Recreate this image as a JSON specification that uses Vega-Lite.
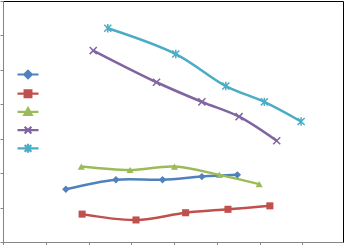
{
  "$schema": "https://vega.github.io/schema/vega-lite/v6.json",
  "autosize": "none",
  "width": 340,
  "height": 241,
  "padding": {"left": 3, "top": 1, "right": 2, "bottom": 3},
  "background": "white",
  "config": {
    "view": {"stroke": "black", "strokeWidth": 1},
    "axis": {
      "domainColor": "#868686",
      "tickColor": "#868686",
      "labels": false,
      "grid": false,
      "title": null,
      "tickSize": 3,
      "domainWidth": 1,
      "tickWidth": 1
    },
    "legend": {
      "orient": "none",
      "legendX": 16,
      "legendY": 64.5,
      "title": null,
      "padding": 0,
      "rowPadding": 1.2,
      "labelExpr": "''",
      "labelLimit": 1,
      "labelFontSize": 1,
      "symbolSize": 225,
      "symbolStrokeWidth": 2.2,
      "symbolOpacity": 1
    }
  },
  "data": {
    "values": [
      {"s": "Series1", "x": 1.47, "y": 1.53},
      {"s": "Series1", "x": 2.64, "y": 1.81},
      {"s": "Series1", "x": 3.73, "y": 1.81},
      {"s": "Series1", "x": 4.65, "y": 1.90},
      {"s": "Series1", "x": 5.48, "y": 1.95},
      {"s": "Series2", "x": 1.85, "y": 0.81},
      {"s": "Series2", "x": 3.11, "y": 0.64},
      {"s": "Series2", "x": 4.27, "y": 0.85},
      {"s": "Series2", "x": 5.26, "y": 0.95},
      {"s": "Series2", "x": 6.24, "y": 1.05},
      {"s": "Series3", "x": 1.83, "y": 2.19},
      {"s": "Series3", "x": 2.97, "y": 2.09},
      {"s": "Series3", "x": 4.01, "y": 2.19},
      {"s": "Series3", "x": 5.06, "y": 1.95},
      {"s": "Series3", "x": 5.99, "y": 1.68},
      {"s": "Series4", "x": 2.11, "y": 5.56},
      {"s": "Series4", "x": 3.59, "y": 4.64},
      {"s": "Series4", "x": 4.65, "y": 4.07},
      {"s": "Series4", "x": 5.52, "y": 3.64},
      {"s": "Series4", "x": 6.40, "y": 2.94},
      {"s": "Series5", "x": 2.45, "y": 6.21},
      {"s": "Series5", "x": 4.04, "y": 5.46},
      {"s": "Series5", "x": 5.21, "y": 4.53},
      {"s": "Series5", "x": 6.11, "y": 4.07},
      {"s": "Series5", "x": 6.97, "y": 3.50}
    ]
  },
  "encoding": {
    "x": {"field": "x", "type": "quantitative", "scale": {"domain": [0, 7.95], "nice": false, "zero": false}, "axis": {"values": [0, 1, 2, 3, 4, 5, 6, 7]}},
    "y": {"field": "y", "type": "quantitative", "scale": {"domain": [0, 7], "nice": false}, "axis": {"values": [0, 1, 2, 3, 4, 5, 6, 7]}},
    "color": {
      "field": "s",
      "type": "nominal",
      "scale": {"domain": ["Series1", "Series2", "Series3", "Series4", "Series5"], "range": ["#4F81BD", "#C0504D", "#9BBB59", "#8064A2", "#4BACC6"]}
    }
  },
  "layer": [
    {
      "mark": {"type": "line", "interpolate": "catmull-rom", "strokeWidth": 2.5}
    },
    {
      "transform": [{"filter": "datum.s == 'Series1'"}],
      "mark": {"type": "point", "shape": "diamond", "filled": true, "opacity": 1, "size": 55}
    },
    {
      "transform": [{"filter": "datum.s == 'Series2'"}],
      "mark": {"type": "point", "shape": "square", "filled": true, "opacity": 1, "size": 50}
    },
    {
      "transform": [{"filter": "datum.s == 'Series3'"}],
      "mark": {"type": "point", "shape": "triangle-up", "filled": true, "opacity": 1, "size": 50}
    },
    {
      "transform": [{"filter": "datum.s == 'Series4'"}],
      "mark": {"type": "point", "shape": "M-1,-1L1,1M-1,1L1,-1", "filled": false, "opacity": 1, "size": 50, "strokeWidth": 1.5}
    },
    {
      "transform": [{"filter": "datum.s == 'Series5'"}],
      "mark": {"type": "point", "shape": "M-1,-1L1,1M-1,1L1,-1M0,-1.2V1.2", "filled": false, "opacity": 1, "size": 50, "strokeWidth": 1.5}
    },
    {
      "mark": {"type": "point", "filled": true, "opacity": 0, "size": 10},
      "encoding": {
        "shape": {
          "field": "s",
          "type": "nominal",
          "scale": {"domain": ["Series1", "Series2", "Series3", "Series4", "Series5"], "range": [
            "M-1.4,0H1.4M0,-0.5L0.5,0L0,0.5L-0.5,0Z",
            "M-1.4,0H1.4M-0.45,-0.45H0.45V0.45H-0.45Z",
            "M-1.4,0H1.4M0,-0.5L0.5,0.4H-0.5Z",
            "M-1.4,0H1.4M-0.45,-0.45L0.45,0.45M-0.45,0.45L0.45,-0.45",
            "M-1.4,0H1.4M-0.45,-0.45L0.45,0.45M-0.45,0.45L0.45,-0.45M0,-0.6V0.6"
          ]}
        },
        "stroke": {
          "field": "s",
          "type": "nominal",
          "scale": {"domain": ["Series1", "Series2", "Series3", "Series4", "Series5"], "range": ["#4F81BD", "#C0504D", "#9BBB59", "#8064A2", "#4BACC6"]}
        }
      }
    }
  ]
}
